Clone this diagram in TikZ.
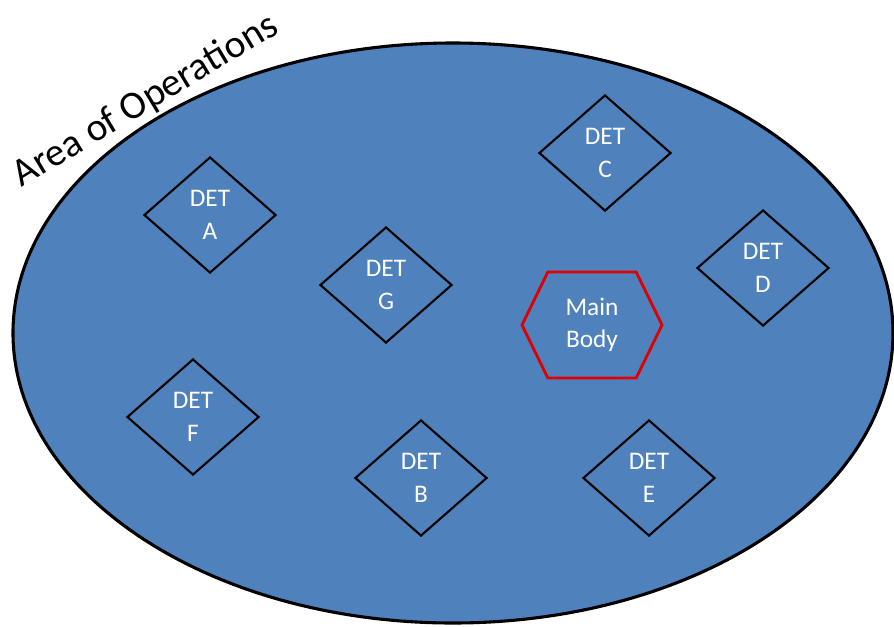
\documentclass[tikz,border=0pt]{standalone}
\usepackage{fontspec}
\setmainfont{Carlito}
\usetikzlibrary{shapes.geometric, shapes.symbols}

\definecolor{aoblue}{RGB}{79,129,189}
\definecolor{bodyred}{RGB}{225,0,0}

\begin{document}
\begin{tikzpicture}[x=0.025cm, y=-0.025cm,
    det/.style={diamond, draw, line width=1.5pt, inner sep=0pt,
        minimum width=3.3cm, minimum height=2.9cm, text=white, align=center,
        font=\fontsize{18}{23}\selectfont},
    mainbody/.style={signal, signal to=west and east, signal pointer angle=128,
        draw=bodyred, line width=2pt, inner sep=0pt,
        minimum width=3.5cm, minimum height=2.65cm, text=white, align=center,
        font=\fontsize{18}{23}\selectfont}]

    \useasboundingbox (0,0) rectangle (894,626);

    % the area itself
    \draw[fill=aoblue, line width=2.2pt] (453,333) ellipse [x radius=440, y radius=290];
    \node [rotate=31, anchor=base, inner sep=0pt, font=\fontsize{28}{32}\selectfont] (aolabel) at (151,110) {Area of Operations};

    \node [mainbody] (M) at (592,325) {Main\\Body};

    \node [det] (A) at (210,215) {DET\\A};
    \node [det] (C) at (605,153) {DET\\C};
    \node [det] (D) at (763,268) {DET\\D};
    \node [det] (G) at (386,285) {DET\\G};
    \node [det] (F) at (193,417) {DET\\F};
    \node [det] (B) at (421,478) {DET\\B};
    \node [det] (E) at (649,478) {DET\\E};

\end{tikzpicture}
\end{document}
